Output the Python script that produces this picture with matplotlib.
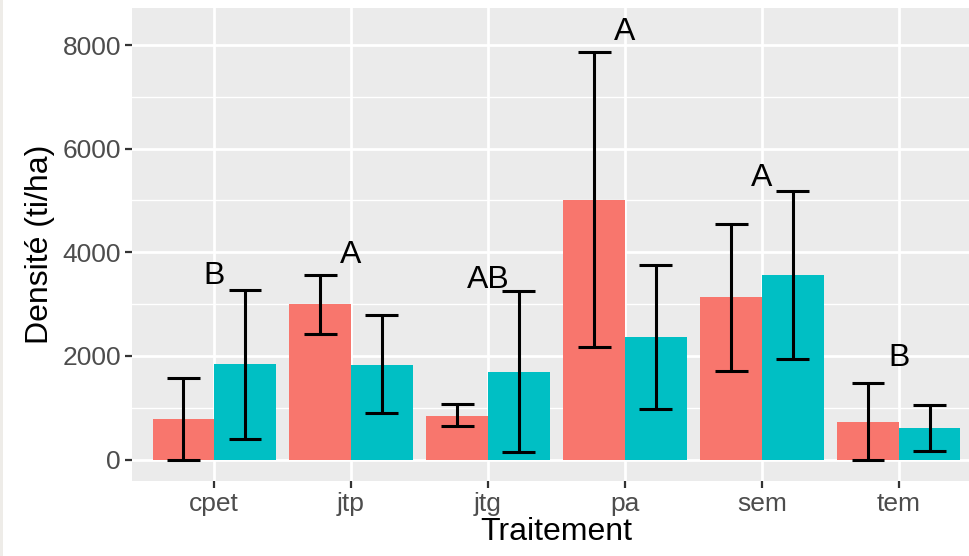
import numpy as np
import matplotlib.pyplot as plt
from matplotlib.patches import Rectangle

plt.rcParams['font.family'] = ['Liberation Sans', 'DejaVu Sans']

# donnees
traitements = ['cpet', 'jtp', 'jtg', 'pa', 'sem', 'tem']
densite_a = [790, 3000, 840, 5010, 3130, 730]
err_a_haut = [1580, 3560, 1070, 7860, 4550, 1470]
err_a_bas = [0, 2430, 650, 2170, 1700, 0]
densite_b = [1840, 1830, 1690, 2360, 3560, 610]
err_b_haut = [3280, 2780, 3250, 3750, 5190, 1060]
err_b_bas = [400, 890, 150, 980, 1940, 160]
lettres = ['B', 'A', 'AB', 'A', 'A', 'B']
lettres_y = [3540, 3940, 3460, 8250, 5440, 1960]

rouge = '#F8766D'
cyan = '#00BFC4'

fig = plt.figure(figsize=(9.69, 5.56), dpi=100)
fig.patch.set_facecolor('white')
fig.patches.append(Rectangle((0, 0), 3 / 969, 1, transform=fig.transFigure,
                             facecolor='#EEECE8', edgecolor='none'))

ax = fig.add_axes([132 / 969, 75 / 556, 849 / 969, 473 / 556])
ax.set_facecolor('#EBEBEB')

x = np.arange(1, len(traitements) + 1)
w = 0.45
cap = 0.12

ax.bar(x - w / 2, densite_a, width=w, color=rouge, zorder=2)
ax.bar(x + w / 2, densite_b, width=w, color=cyan, zorder=2)

for pos, haut, bas in [(x - w / 2, err_a_haut, err_a_bas), (x + w / 2, err_b_haut, err_b_bas)]:
    ax.vlines(pos, bas, haut, color='black', lw=2.2, zorder=3)
    ax.hlines(haut, pos - cap, pos + cap, color='black', lw=2.2, zorder=3)
    ax.hlines(bas, pos - cap, pos + cap, color='black', lw=2.2, zorder=3)

for xi, lab, yi in zip(x, lettres, lettres_y):
    ax.text(xi, yi, lab, ha='center', va='center', fontsize=23, color='black', zorder=4)

ax.set_xlim(0.4, 6.6)
ax.set_ylim(-415, 8715)
ax.set_xticks(x)
ax.set_xticklabels(traitements)
ax.set_yticks([0, 2000, 4000, 6000, 8000])
ax.set_yticks([1000, 3000, 5000, 7000], minor=True)

ax.grid(True, which='major', color='white', lw=2.0, zorder=0)
ax.grid(True, which='minor', axis='y', color='white', lw=1.0, zorder=0)
ax.set_axisbelow(True)
for s in ax.spines.values():
    s.set_visible(False)

ax.tick_params(axis='both', which='major', colors='#333333', length=5, width=1.6,
               labelsize=19, labelcolor='#4D4D4D', pad=3)
ax.tick_params(axis='both', which='minor', length=0)

ax.set_xlabel('Traitement', fontsize=23, color='black', labelpad=1)
ax.set_ylabel('Densité (ti/ha)', fontsize=23, color='black', labelpad=5)

fig.savefig('out.png', dpi=100)
